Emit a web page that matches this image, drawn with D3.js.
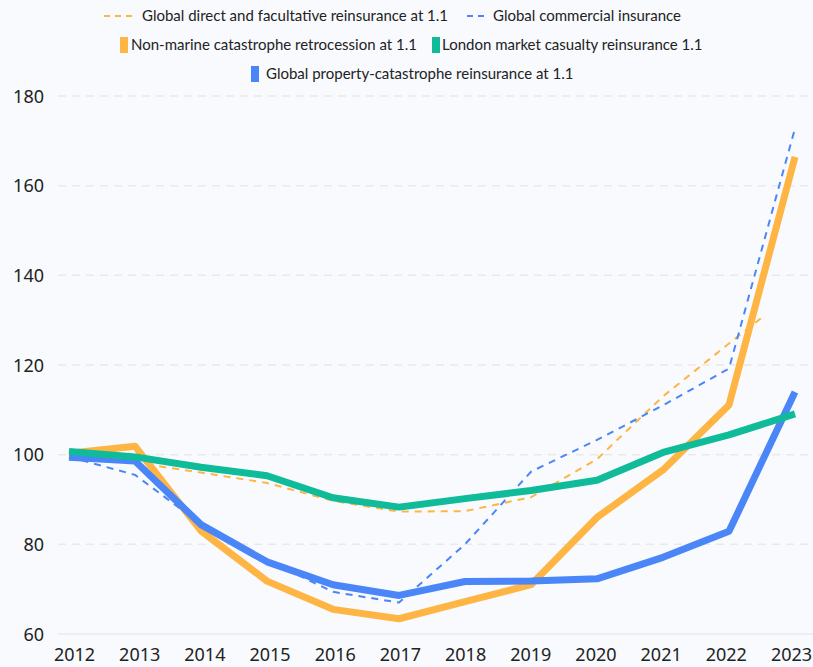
<!DOCTYPE html>
<html>
<head>
<meta charset="utf-8">
<script src="https://cdn.jsdelivr.net/npm/d3@7/dist/d3.min.js"></script>
<style>
  html, body { margin: 0; padding: 0; background: #f8fafe; }
  svg { display: block; }
</style>
</head>
<body>
<svg id="chart" width="813" height="667"></svg>
<script>
const years = [2012, 2013, 2014, 2015, 2016, 2017, 2018, 2019, 2020, 2021, 2022, 2023];
const yTicks = [60, 80, 100, 120, 140, 160, 180];

const directFacYears = [2012, 2013, 2014, 2015, 2016, 2017, 2018, 2019, 2020, 2021, 2022, 2022.5];
const directFac = [100, 98.2, 96, 93.7, 89.7, 87.3, 87.4, 90.5, 99, 113, 124.8, 130.6];
const commercial = [99.5, 95.5, 84.5, 76.5, 69.4, 67, 80, 96.2, 103.3, 111, 119.2, 172.8];
const nonMarineRetro = [100.3, 101.9, 83, 71.8, 65.5, 63.4, 67.2, 71, 86, 96.6, 111.1, 166.4];
const propertyCat = [99.4, 98.6, 84.4, 76.1, 71, 68.6, 71.7, 71.8, 72.3, 77.1, 82.9, 114];
const londonCasualty = [100.7, 99.5, 97.2, 95.3, 90.4, 88.3, 90.2, 92, 94.3, 100.5, 104.4, 109.1];

const names = {
  directFac: "Global direct and facultative reinsurance at 1.1",
  commercial: "Global commercial insurance",
  nonMarineRetro: "Non-marine catastrophe retrocession at 1.1",
  londonCasualty: "London market casualty reinsurance 1.1",
  propertyCat: "Global property-catastrophe reinsurance at 1.1"
};
const colors = {
  orange: "#feb544",
  blue: "#4a86f7",
  green: "#0fbb98"
};

const svg = d3.select("#chart");
const x = d3.scaleLinear().domain([2012, 2023]).range([69, 795]);
const xLabel = d3.scaleLinear().domain([2012, 2023]).range([74, 791]);
const y = d3.scaleLinear().domain([60, 180]).range([634, 96]);

// grid lines
const grid = svg.append("g");
grid.selectAll("line").data(yTicks).join("line")
  .attr("x1", 58).attr("x2", 813)
  .attr("y1", d => y(d)).attr("y2", d => y(d))
  .attr("stroke", d => d === 60 ? "#ebebeb" : "#e9e9e9")
  .attr("stroke-width", 1.5)
  .attr("stroke-dasharray", d => d === 60 ? null : "8,6");

// y axis labels
const yAxis = d3.axisLeft(y).tickValues(yTicks).tickSize(0).tickPadding(0).tickFormat(d3.format("d"));
const gy = svg.append("g").attr("transform", "translate(44,0)").call(yAxis);
gy.select(".domain").remove();
gy.selectAll("text").attr("font-family", "Noto Sans, sans-serif").attr("font-size", 18).attr("fill", "#222").attr("dy", "0.35em");

// x axis labels
const xAxis = d3.axisBottom(xLabel).tickValues(years).tickSize(0).tickPadding(0).tickFormat(d3.format("d"));
const gx = svg.append("g").attr("transform", "translate(0,661)").call(xAxis);
gx.select(".domain").remove();
gx.selectAll("text").attr("font-family", "Noto Sans, sans-serif").attr("font-size", 18).attr("fill", "#222").attr("y", 0).attr("dy", 0);

const line = d3.line().x(d => x(d[0])).y(d => y(d[1]));
const zip = (xs, vs) => xs.map((v, i) => [v, vs[i]]);

const series = [
  { data: zip(directFacYears, directFac), color: colors.orange, width: 2, dash: "7,6" },
  { data: zip(years, commercial), color: colors.blue, width: 2, dash: "7,6" },
  { data: zip(years, nonMarineRetro), color: colors.orange, width: 7, dash: null },
  { data: zip(years, propertyCat), color: colors.blue, width: 7, dash: null },
  { data: zip(years, londonCasualty), color: colors.green, width: 7, dash: null }
];

svg.append("g").selectAll("path").data(series).join("path")
  .attr("d", d => line(d.data))
  .attr("fill", "none")
  .attr("stroke", d => d.color)
  .attr("stroke-width", d => d.width)
  .attr("stroke-dasharray", d => d.dash)
  .attr("stroke-linejoin", "round");

// legend
const legend = svg.append("g").attr("font-family", "Lato, sans-serif").attr("font-size", 15).attr("fill", "#222");
const legendItems = [
  { key: "directFac", color: colors.orange, type: "dash", sx: 104, tx: 142, cy: 16 },
  { key: "commercial", color: colors.blue, type: "dash", sx: 467, tx: 493, cy: 16 },
  { key: "nonMarineRetro", color: colors.orange, type: "rect", sx: 120, tx: 131, cy: 45 },
  { key: "londonCasualty", color: colors.green, type: "rect", sx: 432, tx: 442, cy: 45 },
  { key: "propertyCat", color: colors.blue, type: "rect", sx: 251, tx: 266, cy: 74 }
];
legendItems.forEach(it => {
  if (it.type === "dash") {
    legend.append("line").attr("x1", it.sx).attr("x2", it.sx + (it.key === "directFac" ? 29 : 19))
      .attr("y1", it.cy).attr("y2", it.cy)
      .attr("stroke", it.color).attr("stroke-width", 2).attr("stroke-dasharray", "6,5");
  } else {
    legend.append("rect").attr("x", it.sx).attr("y", it.cy - 8).attr("width", 8).attr("height", 16).attr("fill", it.color);
  }
  legend.append("text").attr("x", it.tx).attr("y", it.cy).attr("dy", "0.35em").text(names[it.key]);
});
</script>
</body>
</html>
